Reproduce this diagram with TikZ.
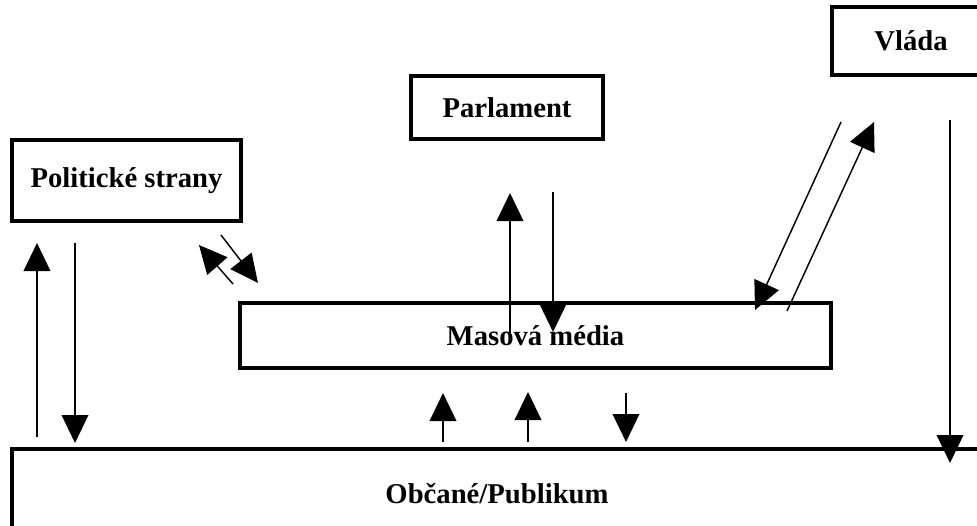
\documentclass[tikz,border=0pt]{standalone}
\usepackage{fontspec}
\setmainfont{Liberation Serif}
\usetikzlibrary{arrows.meta}
\begin{document}
\begin{tikzpicture}[x=0.75pt,y=-0.75pt,
  box/.style={draw,line width=2.6pt,inner sep=0pt,font=\fontsize{21.5pt}{24pt}\selectfont\bfseries},
  arr/.style={line width=1.1pt,-{Triangle[width=20pt,length=21pt]}}]
\useasboundingbox (0,0) rectangle (977,525);
\clip (0,0) rectangle (977,525);
% boxes
\node[box,minimum width=229*0.75pt,minimum height=81*0.75pt] (ps) at (126.5,180.5) {Politické strany};
\node[box,minimum width=192*0.75pt,minimum height=63*0.75pt] (pa) at (507,107.5) {Parlament};
\node[box,minimum width=158*0.75pt,minimum height=68*0.75pt] (vl) at (911,41) {Vláda};
\node[box,minimum width=591*0.75pt,minimum height=65*0.75pt] (mm) at (535.5,335.5) {Masová média};
\node[box,minimum width=970*0.75pt,minimum height=90*0.75pt] (ob) at (497,494) {Občané/Publikum};
% endpoints
\coordinate (l1a) at (37,437);  \coordinate (l1b) at (37,243);
\coordinate (l2a) at (75,243);  \coordinate (l2b) at (75,443);
\coordinate (d1a) at (233,284); \coordinate (d1b) at (199,245);
\coordinate (d2a) at (221,235); \coordinate (d2b) at (258,283);
\coordinate (p1a) at (510,335); \coordinate (p1b) at (510,193);
\coordinate (p2a) at (553,192); \coordinate (p2b) at (553,332);
\coordinate (v1a) at (841,122); \coordinate (v1b) at (755,310);
\coordinate (v2a) at (787,311); \coordinate (v2b) at (874,122);
\coordinate (v3a) at (950,120); \coordinate (v3b) at (950,463);
\coordinate (b1a) at (443,442); \coordinate (b1b) at (443,393);
\coordinate (b2a) at (528,442); \coordinate (b2b) at (528,392);
\coordinate (b3a) at (626,393); \coordinate (b3b) at (626,442);
% connectors
\draw[arr] (l1a) -- (l1b);
\draw[arr] (l2a) -- (l2b);
\draw[arr] (d1a) -- (d1b);
\draw[arr] (d2a) -- (d2b);
\draw[arr] (p1a) -- (p1b);
\draw[arr] (p2a) -- (p2b);
\draw[arr] (v1a) -- (v1b);
\draw[arr] (v2a) -- (v2b);
\draw[arr] (v3a) -- (v3b);
\draw[arr] (b1a) -- (b1b);
\draw[arr] (b2a) -- (b2b);
\draw[arr] (b3a) -- (b3b);
\end{tikzpicture}
\end{document}
